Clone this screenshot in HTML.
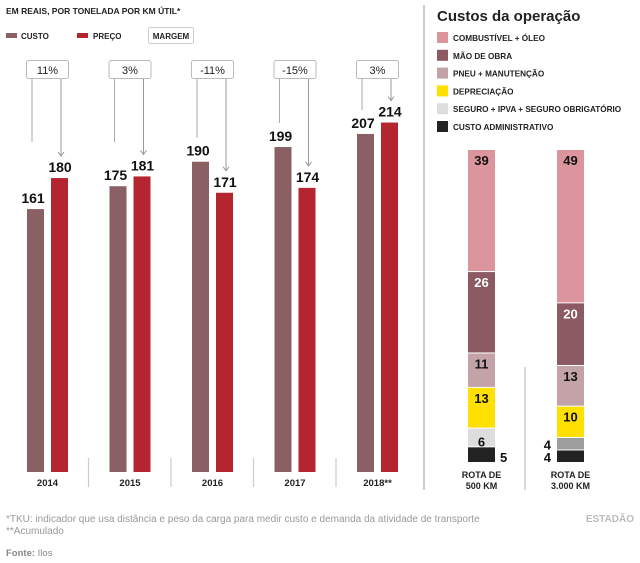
<!DOCTYPE html>
<html><head><meta charset="utf-8"><style>
html,body{margin:0;padding:0;background:#fff;}
svg{display:block;font-family:"Liberation Sans",sans-serif;}
</style></head><body>
<svg id="c" width="640" height="563" viewBox="0 0 640 563">
<text x="6" y="14" font-size="8.5" font-weight="bold" fill="#222">EM REAIS, POR TONELADA POR KM ÚTIL*</text>
<rect x="6" y="33" width="11" height="5" fill="#8a6065"/>
<text x="21" y="39" font-size="8" font-weight="bold" fill="#222">CUSTO</text>
<rect x="77" y="33" width="11" height="5" fill="#b5252f"/>
<text x="93" y="39" font-size="8" font-weight="bold" fill="#222">PREÇO</text>
<rect x="148.5" y="27.5" width="45" height="16" fill="#fff" stroke="#ccc" rx="2"/>
<text x="171" y="39" font-size="8" font-weight="bold" fill="#222" text-anchor="middle">MARGEM</text>
<g id="left"></g>
<line x1="424" y1="5" x2="424" y2="490" stroke="#bbb" stroke-width="1.5"/>
<text x="437" y="21" font-size="15" font-weight="bold" fill="#222">Custos da operação</text>
<g id="right"></g>
<line x1="525" y1="367" x2="525" y2="490" stroke="#ccc" stroke-width="1.5"/>
<text x="6" y="522" font-size="10" fill="#999">*TKU: indicador que usa distância e peso da carga para medir custo e demanda da atividade de transporte</text>
<text x="6" y="534" font-size="10" fill="#999">**Acumulado</text>
<text x="6" y="556" font-size="9.5" fill="#888"><tspan font-weight="bold">Fonte:</tspan> Ilos</text>
<text x="634" y="522" font-size="10" font-weight="bold" fill="#bbb" text-anchor="end">ESTADÃO</text>
</svg>
<script>
const years=['2014','2015','2016','2017','2018**'];
const custo=[161,175,190,199,207];
const preco=[180,181,171,174,214];
const margem=['11%','3%','-11%','-15%','3%'];
const segNames=['COMBUSTÍVEL + ÓLEO','MÃO DE OBRA','PNEU + MANUTENÇÃO','DEPRECIAÇÃO','SEGURO + IPVA + SEGURO OBRIGATÓRIO','CUSTO ADMINISTRATIVO'];
const rota500=[39,26,11,13,6,5];
const rota3000=[49,20,13,10,4,4];
const routes=['ROTA DE|500 KM','ROTA DE|3.000 KM'];
const NS='http://www.w3.org/2000/svg';
function mk(p,t,a,txt){const e=document.createElementNS(NS,t);for(const k in a)e.setAttribute(k,a[k]);if(txt!=null)e.textContent=txt;p.appendChild(e);return e;}
const L=document.getElementById('left');
const base=472,k=1.633;
const y=v=>base-v*k;
const gx=i=>27+i*82.5;
years.forEach((yr,i)=>{
  const x=gx(i);
  let e=mk(L,'rect',{x:x,y:y(custo[i]),width:17,height:custo[i]*k,fill:'#8a6065'});
  
  
  e=mk(L,'rect',{x:x+24,y:y(preco[i]),width:17,height:preco[i]*k,fill:'#b5252f'});
  
  
  e=mk(L,'text',{x:x+6,y:y(custo[i])-6,'font-size':14,'font-weight':'bold','text-anchor':'middle',fill:'#111'},custo[i]);
  
  
  e=mk(L,'text',{x:x+33,y:y(preco[i])-6,'font-size':14,'font-weight':'bold','text-anchor':'middle',fill:'#111'},preco[i]);
  
  
  const lx=x+5,rx=x+34;
  const le=Math.min(142,y(custo[i])-24);
  e=mk(L,'line',{x1:lx,y1:78,x2:lx,y2:le,stroke:'#aaa','stroke-width':1});
  
  
  const re=y(preco[i])-22;
  e=mk(L,'path',{d:`M${rx},78V${re}M${rx-3},${re-4}L${rx},${re}L${rx+3},${re-4}`,stroke:'#999',fill:'none','stroke-width':1});
  
  
  e=mk(L,'rect',{x:x-0.5,y:60.5,width:42,height:18,fill:'#fff',stroke:'#bbb',rx:2});
  
  
  e=mk(L,'text',{x:x+20.5,y:74,'font-size':11,'text-anchor':'middle',fill:'#222'},margem[i]);
  
  
  e=mk(L,'text',{x:x+20.5,y:486,'font-size':9.5,'font-weight':'bold','text-anchor':'middle',fill:'#222'},yr);
  
  
  if(i>0){e=mk(L,'line',{x1:x-21,y1:458,x2:x-21,y2:487,stroke:'#ccc','stroke-width':1.2});
  
  }
});
const R=document.getElementById('right');
const colors=['#dc959c','#8c5a62','#c4a3a8','#ffe000','#dddddd','#222222'];
const col2colors=['#dc959c','#8c5a62','#c4a3a8','#ffe000','#9e9e9e','#222222'];
segNames.forEach((n,i)=>{
  let e=mk(R,'rect',{x:437,y:32+i*17.8,width:11,height:11,fill:colors[i]});
  
  
  e=mk(R,'text',{x:453,y:41+i*17.8,'font-size':8.2,'font-weight':'bold',fill:'#222'},n);
  
  
});
const top0=150,ku=3.13;
[[rota500,468,colors],[rota3000,557,col2colors]].forEach(([vals,cx,cols],c)=>{
  let yy=top0;
  vals.forEach((v,i)=>{
    const h=v*ku;
    let e=mk(R,'rect',{x:cx,y:yy,width:27,height:h-1,fill:cols[i]});
    
    
    let tx=cx+13.5,anchor='middle',ty=yy+15;
    if(i>=4&&h<20){ty=yy+h-1; if(c===0&&i===5){tx=cx+32;anchor='start';} if(c===1){tx=cx-6;anchor='end';}}
    e=mk(R,'text',{x:tx,y:ty,'font-size':13,'font-weight':'bold','text-anchor':anchor,fill:i===1?'#fff':'#111'},v);
    
    
    yy+=h;
  });
  routes[c].split('|').forEach((t,j)=>{
    const e=mk(R,'text',{x:cx+13.5,y:478+j*11,'font-size':9,'font-weight':'bold','text-anchor':'middle',fill:'#222'},t);
    
    
  });
});
</script>
</body></html>
